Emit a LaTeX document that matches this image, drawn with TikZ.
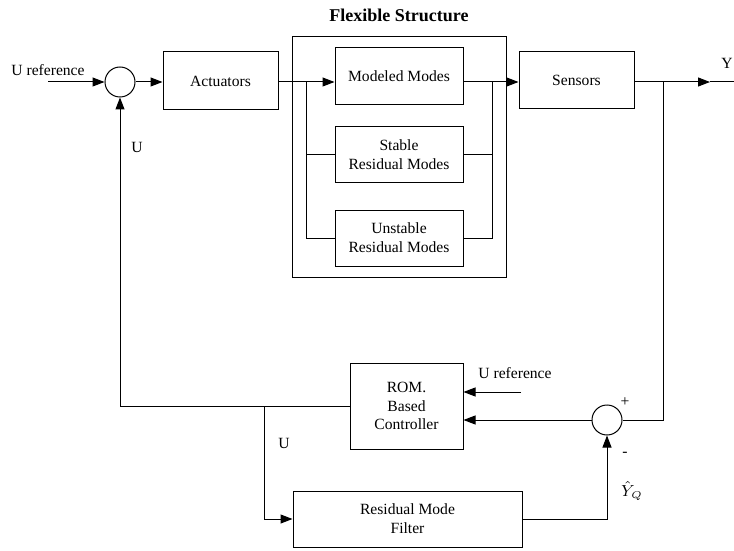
\documentclass[tikz,border=0pt]{standalone}
\usepackage{fontspec}
\setmainfont{Liberation Serif}
\usetikzlibrary{arrows.meta,positioning}

\begin{document}
\begin{tikzpicture}[x=0.5pt,y=-0.5pt,->,>={Triangle[length=6pt,width=4.5pt]},line width=0.5pt,
    block/.style={draw,rectangle,inner sep=0pt,align=center,font=\fontsize{7.8}{9.4}\selectfont},
    sum node/.style={draw,circle,minimum size=15pt,inner sep=0pt},
    lbl/.style={inner sep=0pt,font=\fontsize{7.8}{9.4}\selectfont}]
    \useasboundingbox (0,0) rectangle (734,551);

    \node[sum node] (s1) at (120,82) {};
    \node[block,minimum width=57.5pt,minimum height=29pt] (act) at (220.5,81) {Actuators};
    \node[draw,inner sep=0pt,minimum width=107pt,minimum height=120pt] (flex) at (399,157) {};
    \node[font=\bfseries\fontsize{9}{11}\selectfont] (title) at (399,15) {Flexible Structure};
    \node[block,minimum width=64pt,minimum height=28.5pt] (mm) at (399,76.5) {Modeled Modes};
    \node[block,minimum width=64pt,minimum height=28pt,below=10.5pt of mm] (srm) {Stable\\Residual Modes};
    \node[block,minimum width=64pt,minimum height=28pt,below=13pt of srm] (urm) {Unstable\\Residual Modes};
    \node[block,minimum width=57.5pt,minimum height=28.5pt] (sens) at (576.5,80.5) {Sensors};
    \node[block,minimum width=56.5pt,minimum height=43pt] (rom) at (406.5,406) {ROM.\\Based\\Controller};
    \node[block,minimum width=114.5pt,minimum height=28pt] (rmf) at (407.5,519) {Residual Mode\\Filter};
    \node[sum node] (s2) at (607,420) {};

    \coordinate (uin) at (48,82);
    \coordinate (lb) at (306,82);
    \coordinate (rb) at (492,82);
    \coordinate (ytip) at (710,82);
    \coordinate (yend) at (734,82);
    \coordinate (yb) at (663,82);
    \coordinate (uref) at (521,392);
    \coordinate (ub) at (264,406);

    % forward path
    \draw (uin) -- (s1);
    \draw (s1.east) -- (s1.east -| act.west);
    \draw (act.east |- s1) -- (mm.west |- s1);
    \draw[-] (lb) |- (srm.west);
    \draw[-] (lb) |- (urm.west);
    \draw[-] (srm.east) -| (rb);
    \draw[-] (urm.east) -| (rb);
    \draw (mm.east |- s1) -- (sens.west |- s1);
    \draw (sens.east |- s1) -- (ytip);
    \draw[-] (ytip) -- (yend);

    % feedback path
    \draw[-] (yb) |- (s2);
    \draw (s2) -- (s2 -| rom.east);
    \draw (uref) -- (uref -| rom.east);
    \draw (rmf.east) -| (s2);
    \draw (rom.west) -| (s1);
    \draw (ub) |- (rmf.west);

    \node[lbl] (uinlbl) at (48,70) {U reference};
    \node[lbl] (ylbl) at (727,63) {Y};
    \node[lbl] (u1) at (137,147) {U};
    \node[lbl] (u2) at (284,443) {U};
    \node[lbl] (ureflbl) at (515,373) {U reference};
    \node[lbl] (plus) at (625,402) {+};
    \node[lbl] (minus) at (625,454) {-};
    \node[lbl] (yhat) at (632,491) {$\hat{Y}_Q$};
\end{tikzpicture}
\end{document}
